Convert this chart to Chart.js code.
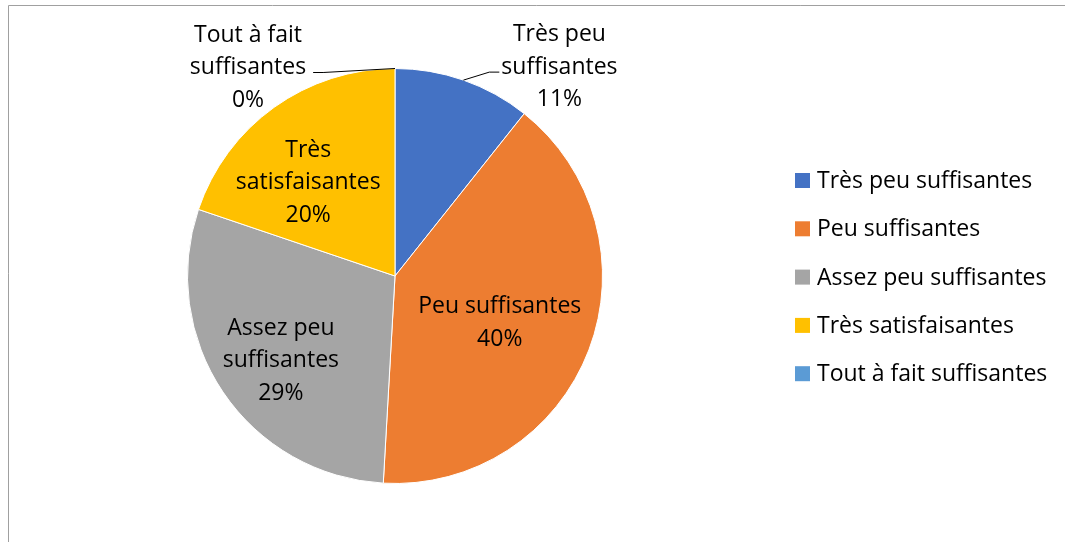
<!DOCTYPE html>
<html lang="fr">
<head>
<meta charset="UTF-8">
<title>Appréciations</title>
<script src="https://cdn.jsdelivr.net/npm/chart.js@4.4.0/dist/chart.umd.min.js"></script>
<style>
html,body{margin:0;background:#fff}
#wrap{width:1065px;height:542px}
</style>
</head>
<body>
<div id="wrap"><canvas id="pie" width="1065" height="542"></canvas></div>
<script>
// ---- data ----
const categories=['Très peu suffisantes','Peu suffisantes','Assez peu suffisantes','Très satisfaisantes','Tout à fait suffisantes'];
const values=[10.7,40.2,29.3,19.8,0];
const colors=['#4472C4','#ED7D31','#A5A5A5','#FFC000','#5B9BD5'];
// slice label text, broken into lines as on the chart
const sliceLabels=[['Très peu','suffisantes'],['Peu suffisantes'],['Assez peu','suffisantes'],['Très','satisfaisantes'],['Tout à fait','suffisantes']];

// ---- label placement (inside: radius fraction + angle nudge, outside: offset from rim) ----
const FONT='23px "Open Sans"';
const LINE_H=32.5;
const place=[
  {out:true,dx:96,dy:-13},
  {r:.55,da:2.5},
  {r:.68,da:-2},
  {r:.62,da:-6.8},
  {out:true,dx:-147,dy:-1}
];

const pct=v=>Math.round(v/values.reduce((a,b)=>a+b,0)*100)+'%';

const frame={id:'frame',beforeDraw(c){const x=c.ctx;x.save();x.strokeStyle='#a0a0a0';x.lineWidth=1;
  x.beginPath();x.moveTo(8.5,c.height);x.lineTo(8.5,5.5);x.lineTo(c.width,5.5);x.stroke();x.restore();}};

const sliceText={id:'sliceText',afterDatasetsDraw(c){
  const x=c.ctx,arcs=c.getDatasetMeta(0).data;
  x.save();x.font=FONT;x.fillStyle='#000';x.textAlign='center';x.textBaseline='middle';
  arcs.forEach((a,i)=>{
    const p=place[i],lines=[...sliceLabels[i],pct(values[i])];
    const mid=(a.startAngle+a.endAngle)/2;
    let cx,cy;
    if(p.out){
      const ax=a.x+a.outerRadius*Math.cos(mid),ay=a.y+a.outerRadius*Math.sin(mid);
      cx=ax+p.dx;cy=ay+p.dy;
      const w=x.measureText(lines[1]).width,ly=cy+5;
      const ex=p.dx>0?cx-w/2-2:cx+w/2+7,kx=p.dx>0?ex-10:ex+10;
      x.strokeStyle='#000';x.lineWidth=1;x.beginPath();x.moveTo(ax,ay);x.lineTo(kx,ly);x.lineTo(ex,ly);x.stroke();
    }else{
      const m=mid+(p.da||0)*Math.PI/180,r=a.outerRadius*p.r;
      cx=a.x+r*Math.cos(m);cy=a.y+r*Math.sin(m)+1.5;
    }
    const y0=cy-(lines.length-1)*LINE_H/2;
    lines.forEach((t,k)=>x.fillText(t,cx,y0+k*LINE_H));
  });
  x.restore();}};

const legendBox={id:'legendBox',afterDraw(c){
  const x=c.ctx;x.save();x.font=FONT;x.textBaseline='middle';x.fillStyle='#000';
  categories.forEach((t,i)=>{const y=180+i*48.3;
    x.fillStyle=colors[i];x.fillRect(795,y-7,15,15);
    x.fillStyle='#000';x.fillText(t,817,y+1.5);});
  x.restore();}};

new Chart(document.getElementById('pie'),{
  type:'pie',
  data:{labels:categories,datasets:[{data:values,backgroundColor:colors,borderColor:'#fff',borderWidth:1}]},
  options:{responsive:false,animation:false,
    layout:{padding:{left:187,right:462,top:68,bottom:58}},
    plugins:{legend:{display:false},tooltip:{enabled:false}}},
  plugins:[frame,sliceText,legendBox]
});
</script>
</body>
</html>
